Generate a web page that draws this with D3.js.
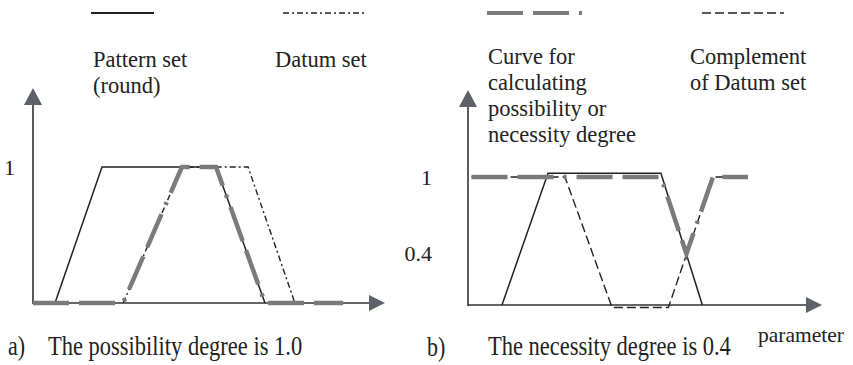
<!DOCTYPE html>
<html>
<head>
<meta charset="utf-8">
<script src="https://cdn.jsdelivr.net/npm/d3@7"></script>
<style>
  html, body { margin: 0; padding: 0; background: #fff; }
  svg { display: block; }
  svg text { font-family: "Liberation Serif", "Times New Roman", serif; }
</style>
</head>
<body>
<svg id="chart" width="853" height="365"></svg>
<script>
// ---- data (parameter on x, membership degree on y) ----
// a) possibility
const patternA     = [[0, 0], [0.625, 0], [1.96, 1], [5.2, 1], [6.59, 0]];
const datumA       = [[2.56, 0], [4.23, 1], [6.11, 1], [7.44, 0]];
const possibilityA = [[0, 0], [2.56, 0], [4.23, 1], [5.2, 1], [6.59, 0], [8.81, 0]];
const yTicksA      = [1];

// b) necessity
const patternB     = [[0.96, 0], [2.26, 1.03], [5.45, 1.03], [6.62, 0]];
const complementB  = [[0.1, 1], [2.74, 1], [4.07, -0.02], [5.66, -0.02], [6.92, 1], [7.91, 1]];
const necessityB   = [[0.1, 1], [5.45, 1], [6.17, 0.4], [6.92, 1], [7.91, 1]];
const yTicksB      = [0.4, 1];

const legendLabels = [
  ["Pattern set", "(round)"],
  ["Datum set"],
  ["Curve for", "calculating", "possibility or", "necessity degree"],
  ["Complement", "of Datum set"]
];
const captions = [
  { tag: "a)", text: "The possibility degree is 1.0" },
  { tag: "b)", text: "The necessity degree is 0.4" }
];
const xAxisTitle = "parameter";

// ---- styles ----
const INK = "#222";
const GRAY = "#7b7b7b";
const ARROW = "#5e606a";
const FONT = "Liberation Serif, Times New Roman, serif";
const styles = {
  pattern:    { stroke: INK,  width: 1.5, dash: null },
  datum:      { stroke: INK,  width: 1.4, dash: "6,3,2,3" },
  curve:      { stroke: GRAY, width: 4.5, dash: "36,10,36,10,3,10" },
  complement: { stroke: INK,  width: 1.4, dash: "9,4" }
};

const svg = d3.select("#chart");

function panel(cfg) {
  const x = d3.scaleLinear().domain([0, 10]).range(cfg.xRange);
  const y = d3.scaleLinear().domain([0, 1]).range(cfg.yRange);
  const g = svg.append("g");
  const line = d3.line().x(d => x(d[0])).y(d => y(d[1]));

  // y axis with its tick labels
  const yAxisScale = y.copy().domain([0, cfg.yMax]).range([y(0), y(cfg.yMax)]);
  const ya = g.append("g")
    .attr("transform", `translate(${x(0)},0)`)
    .call(d3.axisLeft(yAxisScale).tickValues(cfg.yTicks).tickSize(0).tickSizeOuter(0)
      .tickPadding(cfg.tickPad).tickFormat(d => String(d)));
  ya.attr("font-family", FONT);
  ya.select(".domain").attr("stroke", "#333").attr("stroke-width", 1.6)
    .attr("d", `M0,${y(0) + 1}V${y(cfg.yMax) + 12}`);
  ya.selectAll("text").attr("font-size", 22).attr("fill", INK);

  // x axis
  const xa = g.append("g")
    .attr("transform", `translate(0,${y(0)})`)
    .call(d3.axisBottom(x).tickValues([]).tickSizeOuter(0));
  xa.select(".domain").attr("stroke", "#333").attr("stroke-width", 1.6)
    .attr("d", `M${x(0)},0H${x(10) - 12}`);

  // arrow heads
  g.append("path").attr("fill", ARROW)
    .attr("d", `M${x(0)},${y(cfg.yMax)}l-9,17h18z`);
  g.append("path").attr("fill", ARROW)
    .attr("d", `M${x(10)},${y(0)}l-16,-8v16z`);

  // curves
  cfg.series.forEach(s => {
    const st = styles[s.style];
    g.append("path").datum(s.data)
      .attr("d", line)
      .attr("fill", "none")
      .attr("stroke", st.stroke)
      .attr("stroke-width", st.width)
      .attr("stroke-dasharray", st.dash)
      .attr("stroke-linejoin", "miter");
  });
}

panel({
  xRange: [33, 385], yRange: [303, 167], yMax: 1.58, yTicks: yTicksA, tickPad: 18,
  series: [
    { data: patternA, style: "pattern" },
    { data: datumA, style: "datum" },
    { data: possibilityA, style: "curve" }
  ]
});

panel({
  xRange: [468, 822], yRange: [305, 177], yMax: 1.68, yTicks: yTicksB, tickPad: 36,
  series: [
    { data: patternB, style: "pattern" },
    { data: complementB, style: "complement" },
    { data: necessityB, style: "curve" }
  ]
});

// ---- legend ----
const legendItems = [
  { style: "pattern",    x1: 91,  x2: 154, tx: 93,  ty: 67 },
  { style: "datum",      x1: 283, x2: 364, tx: 275, ty: 67 },
  { style: "curve",      x1: 487, x2: 590, tx: 488, ty: 64 },
  { style: "complement", x1: 702, x2: 784, tx: 690, ty: 64 }
];
legendItems.forEach((it, i) => {
  const st = styles[it.style];
  svg.append("line")
    .attr("x1", it.x1).attr("x2", it.x2).attr("y1", 13).attr("y2", 13)
    .attr("stroke", st.stroke)
    .attr("stroke-width", it.style === "curve" ? 4 : (it.style === "pattern" ? 2 : 1.6))
    .attr("stroke-dasharray", st.dash);
  const t = svg.append("text")
    .attr("x", it.tx).attr("y", it.ty)
    .attr("font-size", 22.5).attr("fill", INK);
  legendLabels[i].forEach((s, k) => {
    t.append("tspan").attr("x", it.tx).attr("dy", k === 0 ? 0 : 26).text(s);
  });
});

// ---- captions (set in a slightly tall face) ----
const capPos = [
  { tagX: 8, tagY: 355, textX: 48, textY: 355 },
  { tagX: 427, tagY: 356, textX: 488, textY: 355 }
];
function tallText(x, y, size, str) {
  svg.append("text")
    .attr("transform", `translate(${x},${y}) scale(1,1.22)`)
    .attr("font-size", size).attr("fill", INK).text(str);
}
captions.forEach((c, i) => {
  const p = capPos[i];
  tallText(p.tagX, p.tagY, 22, c.tag);
  tallText(p.textX, p.textY, 22.5, c.text);
});
svg.append("text").attr("x", 758).attr("y", 342)
  .attr("font-size", 21.5).attr("fill", INK).text(xAxisTitle);
</script>
</body>
</html>
